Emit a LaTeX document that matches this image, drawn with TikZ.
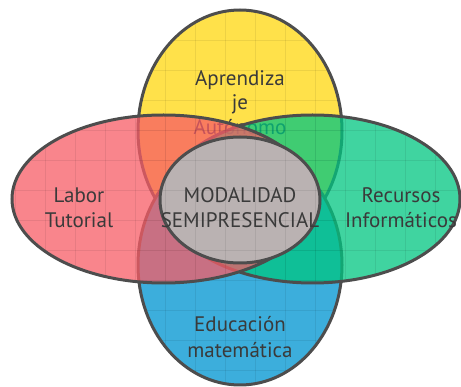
\documentclass[tikz,border=0pt]{standalone}
\usepackage{fontspec}
\setmainfont{PT Sans}
\usetikzlibrary{positioning}

\definecolor{vyellow}{RGB}{255,225,74}
\definecolor{vblue}{RGB}{60,174,220}
\definecolor{vred}{RGB}{247,92,102}
\definecolor{vgreen}{RGB}{0,197,128}
\definecolor{vgray}{RGB}{186,178,178}
\definecolor{vline}{RGB}{77,77,77}
\definecolor{vtext}{RGB}{58,58,58}

\tikzset{
  outline/.style={draw=vline, line width=3pt},
  gridline/.style={black, opacity=0.07, line width=0.8pt},
  lbl/.style={text=vtext, font=\fontsize{21}{25}\selectfont, anchor=base, inner sep=0pt},
}

% faint grid drawn inside the current clip
\newcommand{\vgrid}{%
  \foreach \gx in {15,45,...,465} {\draw[gridline] (\gx,0) -- (\gx,387);}
  \foreach \gy in {10,40,...,370} {\draw[gridline] (0,\gy) -- (461,\gy);}
}

\begin{document}
\begin{tikzpicture}[x=1pt,y=-1pt]
\useasboundingbox (0,0) rectangle (461,387);

% Top ellipse
\fill[vyellow] (240,131) ellipse [x radius=102pt, y radius=121pt];
\begin{scope}
  \clip (240,131) ellipse [x radius=102pt, y radius=121pt];
  \vgrid
\end{scope}
\draw[outline] (240,131) ellipse [x radius=102pt, y radius=121pt];
\node[lbl] (apr1) at (240,86) {Aprendiza};
\node[lbl] (apr2) at (240,110) {je};
\node[lbl] (apr3) at (240,135) {Autónomo};

% Bottom ellipse
\fill[vblue] (240,265) ellipse [x radius=102pt, y radius=120pt];
\begin{scope}
  \clip (240,265) ellipse [x radius=102pt, y radius=120pt];
  \vgrid
\end{scope}
\draw[outline] (240,265) ellipse [x radius=102pt, y radius=120pt];
\node[lbl] (edu1) at (240,332) {Educación};
\node[lbl] (edu2) at (240,358) {matemática};

% Right ellipse
\fill[vgreen, fill opacity=0.75] (312.5,199) ellipse [x radius=147.5pt, y radius=84pt];
\begin{scope}
  \clip (312.5,199) ellipse [x radius=147.5pt, y radius=84pt];
  \vgrid
\end{scope}
\draw[outline] (312.5,199) ellipse [x radius=147.5pt, y radius=84pt];
\node[lbl] (rec1) at (401,203) {Recursos};
\node[lbl] (rec2) at (401,228) {Informáticos};

% Left ellipse
\fill[vred, fill opacity=0.75] (163.5,199) ellipse [x radius=151.5pt, y radius=84pt];
\begin{scope}
  \clip (163.5,199) ellipse [x radius=151.5pt, y radius=84pt];
  \vgrid
\end{scope}
\draw[outline] (163.5,199) ellipse [x radius=151.5pt, y radius=84pt];
\node[lbl] (lab1) at (79,203) {Labor};
\node[lbl] (lab2) at (79,228) {Tutorial};

% Centre ellipse
\fill[vgray] (240,200) ellipse [x radius=80pt, y radius=63pt];
\begin{scope}
  \clip (240,200) ellipse [x radius=80pt, y radius=63pt];
  \vgrid
\end{scope}
\draw[outline] (240,200) ellipse [x radius=80pt, y radius=63pt];
\node[lbl] (mod1) at (240,203) {MODALIDAD};
\node[lbl] (mod2) at (240,228) {SEMIPRESENCIAL};
\end{tikzpicture}
\end{document}
